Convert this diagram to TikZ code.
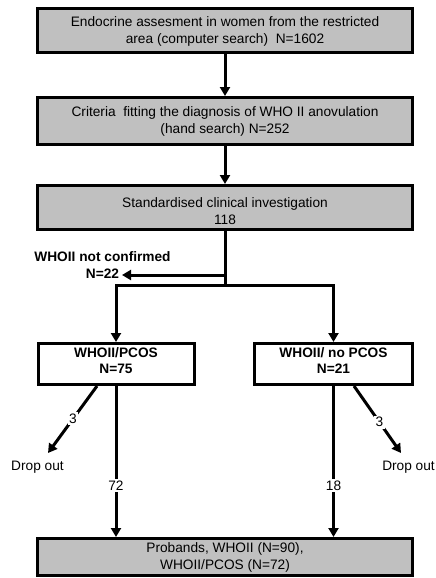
\documentclass[tikz,border=0pt]{standalone}
\usepackage{fontspec}
\setmainfont{Liberation Sans}
\usetikzlibrary{arrows.meta}
\definecolor{boxgray}{HTML}{C0C0C0}
\newcommand{\upstrut}[1]{\rule{0pt}{#1}}
\newcommand{\dnstrut}[1]{\rule[-#1]{0pt}{#1}}
\begin{document}
\begin{tikzpicture}[x=1pt,y=-1pt,
  every node/.style={font=\fontsize{13.7}{17}\selectfont},
  graybox/.style={draw=black, line width=3pt, fill=boxgray, minimum width=375pt, align=center, inner sep=0pt},
  whitebox/.style={draw=black, line width=3pt, fill=white, align=center, inner sep=0pt, font=\fontsize{13.7}{16}\selectfont\bfseries},
  conn/.style={line width=3pt},
  arr/.style={conn, -{Triangle[length=9pt,width=10pt]}},
  lbl/.style={fill=white, inner sep=1.5pt},
  plain/.style={inner sep=0pt}
]
\useasboundingbox (0,0) rectangle (436,578);

\node[graybox, minimum height=44pt] (b1) at (225,31)
  {Endocrine assesment in women from the restricted\\area (computer search)\ \ N=1602};
\node[graybox, minimum height=47pt] (b2) at (225,121)
  {Criteria\ \ fitting the diagnosis of WHO II anovulation\\(hand search) N=252};
\node[graybox, minimum height=44pt] (b3) at (225,207.5)
  {\upstrut{18pt}Standardised clinical investigation\\118};
\node[whitebox, minimum width=156pt, minimum height=41pt] (lb) at (116,364)
  {WHOII/PCOS\\N=75\dnstrut{7pt}};
\node[whitebox, minimum width=158pt, minimum height=41pt] (rb) at (333.5,364)
  {WHOII/ no PCOS\\N=21\dnstrut{7pt}};
\node[graybox, minimum height=37pt] (b4) at (225,557)
  {Probands, WHOII (N=90),\\WHOII/PCOS (N=72)};

\node[plain, align=center, font=\fontsize{13.7}{17}\selectfont\bfseries] (nc) at (102.5,265.5)
  {WHOII not confirmed\\N=22};
\node[plain] (do1) at (37.5,467) {Drop out};
\node[plain, anchor=east] (do2) at (435,467) {Drop out};

\coordinate (nce) at (122,275);
\coordinate (br) at (225,285);
\coordinate (d1s) at (97,386);
\coordinate (d1e) at (48,453);
\coordinate (d2s) at (354,386);
\coordinate (d2e) at (401,453);

\draw[arr] (b1) -- (b2);
\draw[arr] (b2) -- (b3);
\draw[conn] (b3.south) -- (br);
\draw[arr] (b3.south |- nce) -- (nce);
\draw[arr] (br) -| (lb.north);
\draw[arr] (br) -| (rb.north);

\draw[arr] (d1s) -- node[lbl, pos=0.49] {3} (d1e);
\draw[arr] (d2s) -- node[lbl, pos=0.54] {3} (d2e);
\draw[arr] (lb.south) -- node[lbl, pos=0.66] {72} (lb.south |- b4.north);
\draw[arr] (rb.south) -- node[lbl, pos=0.66] {18} (rb.south |- b4.north);
\end{tikzpicture}
\end{document}
